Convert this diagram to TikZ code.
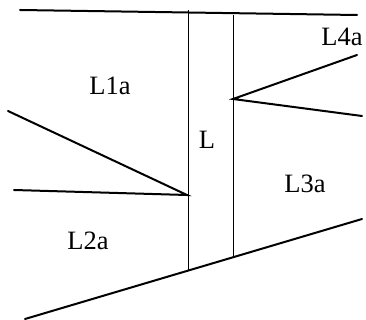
\documentclass[tikz,border=0pt]{standalone}
\usepackage{fontspec}
\setmainfont{Liberation Serif}
\usepackage{tikz}
\tikzset{
  edge/.style={draw, line width=2pt, line cap=round},
  wall/.style={draw, line width=0.9pt},
  lbl/.style={font=\fontsize{26.5}{30}\selectfont, inner sep=0pt},
}

\begin{document}
\begin{tikzpicture}[x=1pt, y=-1pt]
\useasboundingbox (0,0) rectangle (366,320);
% boundary lines
\coordinate (tl) at (20,10);
\coordinate (tr) at (357,15);
\coordinate (bl) at (25,319);
\coordinate (br) at (362,219);
\draw[edge] (tl) -- (tr);
\draw[edge] (bl) -- (br);
% column
\coordinate (ct1) at (188,10.2);
\coordinate (cb1) at (188,270.6);
\coordinate (ct2) at (233,15);
\coordinate (cb2) at (233,257.3);
\draw[wall] (ct1) -- (cb1);
\draw[wall] (ct2) -- (cb2);
% wedges
\coordinate (wa) at (233,99);
\coordinate (wa1) at (357,55);
\coordinate (wa2) at (362,116);
\draw[edge] (wa1) -- (wa) -- (wa2);
\coordinate (wb) at (187,195);
\coordinate (wb1) at (8,111);
\coordinate (wb2) at (14,190);
\draw[edge] (wb1) -- (wb) -- (wb2);
% labels
\node[lbl] (l1a) at (110,86) {L1a};
\node[lbl] (l4a) at (342,37) {L4a};
\node[lbl] (lc) at (207,140) {L};
\node[lbl] (l3a) at (305,184) {L3a};
\node[lbl] (l2a) at (88,241) {L2a};
\end{tikzpicture}
\end{document}
